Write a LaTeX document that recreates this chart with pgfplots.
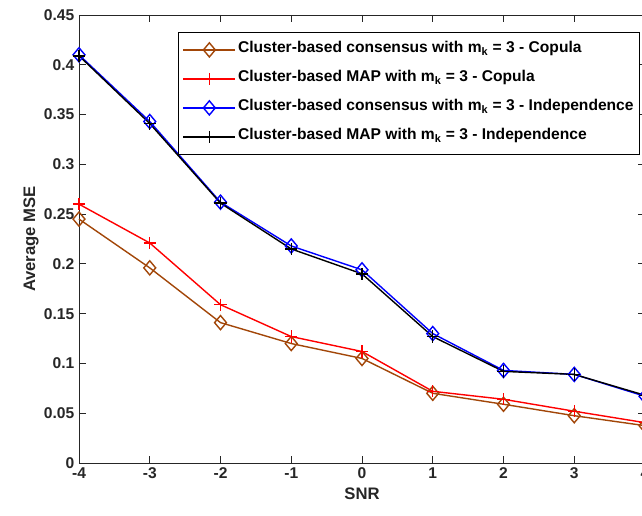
\documentclass[border=0pt]{standalone}
\usepackage{pgfplots}
\pgfplotsset{compat=1.18}
\usepackage{fontspec}
\setmainfont{Liberation Sans}[BoldFont={Liberation Sans Bold}]
\definecolor{brn}{RGB}{162,70,8}
\definecolor{axgray}{RGB}{38,38,38}
\begin{document}
\begin{tikzpicture}
\begin{axis}[
  scale only axis, width=424.5pt, height=336pt,
  xmin=-4, xmax=4, ymin=0, ymax=0.45,
  xtick={-4,-3,...,4},
  xticklabels={\textbf{-4},\textbf{-3},\textbf{-2},\textbf{-1},\textbf{0},\textbf{1},\textbf{2},\textbf{3},\textbf{4}},
  ytick={0,0.05,...,0.45},
  yticklabels={\textbf{0},\textbf{0.05},\textbf{0.1},\textbf{0.15},\textbf{0.2},\textbf{0.25},\textbf{0.3},\textbf{0.35},\textbf{0.4},\textbf{0.45}},
  tick align=inside, tick pos=both,
  major tick length=5pt,
  axis line style={axgray, line width=0.6pt},
  every tick/.style={axgray, line width=0.6pt},
  tick label style={font=\fontsize{11.7}{13}\selectfont\bfseries, text=axgray},
  xlabel={\textbf{SNR}}, ylabel={\textbf{Average MSE}},
  label style={font=\fontsize{12.5}{14}\selectfont\bfseries, text=axgray},
  ylabel style={yshift=-3pt},
  legend style={at={(1,1)}, anchor=north east, xshift=-3.75pt, yshift=-12.75pt,
    font=\fontsize{11.7}{13}\selectfont\bfseries, draw=black, line width=0.6pt,
    row sep=1.5pt, inner xsep=3pt, inner ysep=3pt,
    nodes={inner sep=1.5pt, text height=10.95pt, text depth=6.3pt}},
  legend cell align=left,
  legend image code/.code={\draw[mark repeat=2,mark phase=2,#1] plot coordinates {(0pt,0pt) (19.5pt,0pt) (39pt,0pt)};},
  every axis plot/.append style={line width=1.05pt},
  clip=false,
]
\addplot[brn, mark=diamond, mark size=5.3pt, mark options={line width=1.05pt, xscale=1.12}] coordinates {(-4,0.245) (-3,0.196) (-2,0.141) (-1,0.120) (0,0.105) (1,0.070) (2,0.059) (3,0.0475) (4,0.0375)};
\addlegendentry{Cluster-based consensus with m\textsubscript{k} = 3 - Copula}
\addplot[red, mark=+, mark size=4.6pt, mark options={line width=1.05pt}] coordinates {(-4,0.260) (-3,0.221) (-2,0.159) (-1,0.127) (0,0.112) (1,0.072) (2,0.064) (3,0.052) (4,0.0405)};
\addlegendentry{Cluster-based MAP with m\textsubscript{k} = 3 - Copula}
\addplot[blue, mark=diamond, mark size=5.3pt, mark options={line width=1.05pt, xscale=1.12}] coordinates {(-4,0.410) (-3,0.343) (-2,0.262) (-1,0.218) (0,0.194) (1,0.130) (2,0.093) (3,0.089) (4,0.067)};
\addlegendentry{Cluster-based consensus with m\textsubscript{k} = 3 - Independence}
\addplot[black, mark=+, mark size=4.6pt, mark options={line width=1.05pt}] coordinates {(-4,0.409) (-3,0.341) (-2,0.261) (-1,0.215) (0,0.190) (1,0.127) (2,0.092) (3,0.089) (4,0.068)};
\addlegendentry{Cluster-based MAP with m\textsubscript{k} = 3 - Independence}
\coordinate (sw) at (rel axis cs:0,0);
\coordinate (ne) at (rel axis cs:1,1);
\end{axis}
\pgfresetboundingbox
\path[use as bounding box] ([xshift=-59.25pt,yshift=-39.75pt]sw) rectangle ([xshift=-2.25pt,yshift=11.25pt]ne);
\end{tikzpicture}
\end{document}
